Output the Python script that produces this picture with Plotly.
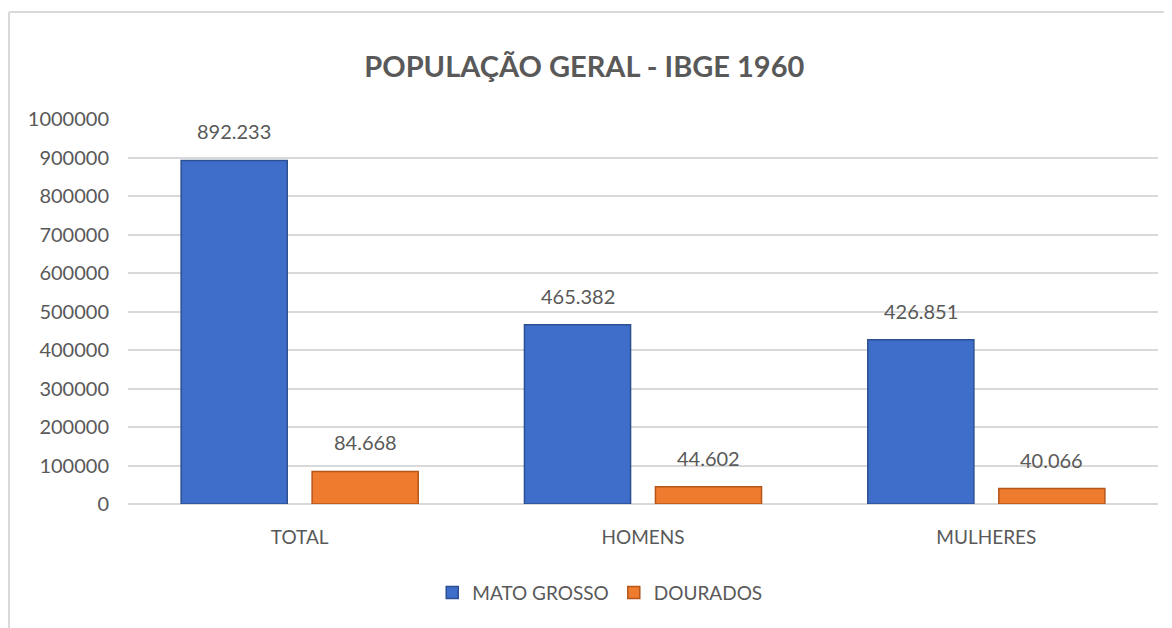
import plotly.graph_objects as go

categories = ["TOTAL", "HOMENS", "MULHERES"]
mato_grosso = [892233, 465382, 426851]
dourados = [84668, 44602, 40066]
y_ticks = [0, 100000, 200000, 300000, 400000, 500000, 600000, 700000, 800000, 900000, 1000000]

FONT = "Lato"
GREY = "#595959"

fig = go.Figure()
fig.add_trace(go.Bar(
    x=categories, y=mato_grosso, name="MATO GROSSO",
    marker=dict(color="#3E6EC9", line=dict(color="#2C4F93", width=1.5)),
    hoverinfo="x+y",
))
fig.add_trace(go.Bar(
    x=categories, y=dourados, name="DOURADOS",
    marker=dict(color="#EF7C2E", line=dict(color="#B5561A", width=1.5)),
    hoverinfo="x+y",
))

def fmt(v):
    return f"{v:,}".replace(",", ".")

for series, shift in ((mato_grosso, -65.5), (dourados, 65.5)):
    for c, v in zip(categories, series):
        fig.add_annotation(x=c, y=v, text=fmt(v), showarrow=False,
                           xshift=shift, yshift=29, yanchor="middle",
                           font=dict(family=FONT, size=20, color=GREY))

# outer chart frame (top and left edges)
fig.add_shape(type="line", xref="paper", yref="paper", x0=-0.1155, x1=1.02, y0=1.278, y1=1.278,
              line=dict(color="#D9D9D9", width=2))
fig.add_shape(type="line", xref="paper", yref="paper", x0=-0.1155, x1=-0.1155, y0=1.278, y1=-0.33,
              line=dict(color="#D9D9D9", width=2))

fig.update_layout(
    width=1164, height=620,
    margin=dict(l=120, r=14, t=111, b=124),
    paper_bgcolor="white", plot_bgcolor="white",
    barmode="group", bargap=0.237, bargroupgap=0.19,
    title=dict(text="<b>POPULAÇÃO GERAL - IBGE 1960</b>", x=0.443, xref="paper", xanchor="center",
               y=1 - 59/620, yanchor="middle", yref="container",
               font=dict(family=FONT, size=29, color=GREY)),
    font=dict(family=FONT, size=20, color=GREY),
    showlegend=True,
    legend=dict(orientation="h", x=0.458, xanchor="center", y=-0.23, yanchor="middle",
                font=dict(family=FONT, size=19, color=GREY), itemwidth=30),
    xaxis=dict(showline=False, ticks="", ticklabelstandoff=20,
               tickfont=dict(family=FONT, size=19, color=GREY)),
    yaxis=dict(range=[0, 1000000], tickvals=y_ticks, tickformat="d",
               showgrid=True, gridcolor="#D9D9D9", gridwidth=1.5,
               zeroline=True, zerolinecolor="#D9D9D9", zerolinewidth=1.5,
               showline=False, ticks="", ticklabelstandoff=18,
               tickfont=dict(family=FONT, size=20, color=GREY)),
)

fig.write_html("out.html")
